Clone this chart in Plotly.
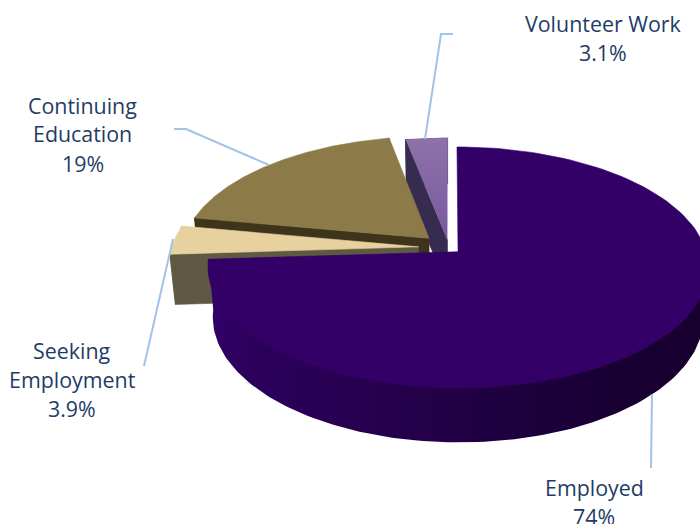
import numpy as np
import plotly.graph_objects as go

# ---- data ----
labels = ["Employed", "Seeking Employment", "Continuing Education", "Volunteer Work"]
values = [74.0, 3.9, 19.0, 3.1]
value_labels = ["74%", "3.9%", "19%", "3.1%"]
pulls = [0.05, 0.124, 0.115, 0.065]
top_colors = ["#320066", "#E6D19F", "#8C7A48", "#8264A6"]
side_colors = ["#1A0033", "#5F5842", "#3E341B", "#362C4F"]

# ---- projection of the tilted pie ----
CX, CY = 449.0, 247.7
A, B, H = 247.0, 117.4, 51.0
P, Q = 0.13, 0.02


def project(x, y, z):
    s = 1.0 / (1.0 + P * y + Q * z)
    return CX + A * x * s, CY - B * y * s + H * z * s


def rim(a0, a1, ox, oy, z):
    t = np.radians(np.linspace(a0, a1, 140))
    return project(ox + np.sin(t), oy + np.cos(t), z)


def poly(fig, xs, ys, color, gradient=None):
    kw = dict(x=np.round(xs, 2).tolist(), y=np.round(ys, 2).tolist(), mode="lines", fill="toself",
              line=dict(width=0.6, color=color), hoverinfo="skip", showlegend=False)
    if gradient:
        kw["fillgradient"] = gradient
        kw["line"] = dict(width=0)
    else:
        kw["fillcolor"] = color
    fig.add_trace(go.Scatter(**kw))


fig = go.Figure()

total = sum(values)
edges = np.concatenate([[0], np.cumsum(values)]) / total * 360.0
slices = []
for i, p in enumerate(pulls):
    a0, a1 = edges[i], edges[i + 1]
    mid = np.radians((a0 + a1) / 2)
    slices.append((i, a0, a1, p * np.sin(mid), p * np.cos(mid)))

for i, a0, a1, ox, oy in [slices[3], slices[2], slices[1], slices[0]]:
    # cut face on the near side
    if i != 0:
        t = np.radians(a0)
        rx, ry = ox + np.sin(t), oy + np.cos(t)
        p1 = project(ox, oy, 0); p2 = project(rx, ry, 0)
        p3 = project(rx, ry, 1); p4 = project(ox, oy, 1)
        poly(fig, [p1[0], p2[0], p3[0], p4[0], p1[0]], [p1[1], p2[1], p3[1], p4[1], p1[1]], side_colors[i])
    # outer wall (its upper edge runs under the top face so no seam shows)
    wa0 = max(a0, 92) if i == 0 else a0
    tx, ty = rim(wa0, a1, ox, oy, 0)
    bx, by = rim(wa0, a1, ox, oy, 1)
    wx = np.concatenate([tx[:1], bx, tx[-1:], tx[:1]])
    wy = np.concatenate([ty[:1], by, ty[-1:], ty[:1]])
    if i == 0:
        poly(fig, wx, wy, side_colors[i], gradient=dict(type="horizontal", colorscale=[
            [0, "#33006A"], [0.08, "#2C005C"], [0.29, "#280050"], [0.59, "#1E0040"], [0.85, "#170030"], [1, "#17002E"]]))
    else:
        poly(fig, wx, wy, side_colors[i])
    # top face
    ax, ay = project(ox, oy, 0)
    tx, ty = rim(a0, a1, ox, oy, 0)
    fx = np.concatenate([[ax], tx, [ax]])
    fy = np.concatenate([[ay], ty, [ay]])
    if i == 3:
        poly(fig, fx, fy, top_colors[i], gradient=dict(type="vertical", colorscale=[[0, "#7A569E"], [1, "#8C73A9"]]))
    else:
        poly(fig, fx, fy, top_colors[i])

# ---- leader lines ----
LEADER = "#A0C3E8"
leaders = [
    "M 453 34 L 441 34 L 425 139",
    "M 174 129 L 186 129 L 269 165",
    "M 173 239 L 144 366",
    "M 652 394 L 651 468",
]
shapes = [dict(type="path", path=p, xref="x", yref="y", line=dict(color=LEADER, width=2)) for p in leaders]

# ---- labels: one annotation per printed line for the reference's leading ----
TEXT = "#1F3C66"
rows = [
    ("Employed", 594, 487), ("74%", 594, 516),
    ("Seeking", 72, 350), ("Employment", 72, 379), ("3.9%", 72, 408),
    ("Continuing", 82.5, 105), ("Education", 82.5, 133), ("19%", 82.5, 163),
    ("Volunteer Work", 603, 23), ("3.1%", 603, 52),
]
annotations = [dict(text=t, x=x, y=y, xref="x", yref="y", showarrow=False, xanchor="center", yanchor="middle",
                    font=dict(family="Open Sans", size=21.4, color=TEXT)) for t, x, y in rows]

fig.update_layout(
    width=700, height=524, margin=dict(l=0, r=0, t=0, b=0, pad=0, autoexpand=False),
    paper_bgcolor="white", plot_bgcolor="white", showlegend=False,
    xaxis=dict(visible=False, range=[0, 700], fixedrange=True),
    yaxis=dict(visible=False, range=[524, 0], fixedrange=True),
    shapes=shapes, annotations=annotations,
)
fig.write_html("out.html", config=dict(displayModeBar=False), post_script="document.body.style.margin='0';")
